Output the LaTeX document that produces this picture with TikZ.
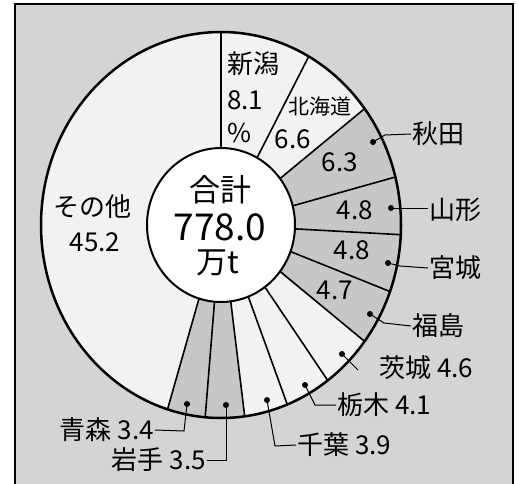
\documentclass[tikz,border=0pt]{standalone}
\usepackage{fontspec}
\setmainfont{Noto Sans CJK JP}
\definecolor{bggray}{gray}{0.83}
\definecolor{shadegray}{gray}{0.78}
\definecolor{lightfill}{gray}{0.95}
\begin{document}
\begin{tikzpicture}[x=1pt,y=-1pt,
  lbl/.style={font=\fontsize{26}{28}\selectfont, inner sep=1pt},
  small/.style={font=\fontsize{21}{23}\selectfont, inner sep=1pt},
  bigjp/.style={font=\fontsize{31}{33}\selectfont, inner sep=0pt},
  bignum/.style={font=\fontsize{37}{39}\selectfont, inner sep=0pt},
  dotmark/.style={circle, fill=black, inner sep=0pt, minimum size=6pt},
  lead/.style={line width=1pt},
  divline/.style={line width=1.6pt}]
\useasboundingbox (0,0) rectangle (519,484);
\coordinate (C) at (221,225);
% background and frame
\fill[bggray] (15,4) rectangle (513,484);
\draw[line width=2pt] (15,484) -- (15,4) -- (513,4) -- (513,484);
% donut
\fill[lightfill] (C) ellipse [x radius=180, y radius=193];
\fill[shadegray] (C) -- ([shift={(C)}]-37.08:180 and 193)
  arc[start angle=-37.08, end angle=37.08, x radius=180, y radius=193] -- cycle;
\fill[shadegray] (C) -- ([shift={(C)}]82.44:180 and 193)
  arc[start angle=82.44, end angle=107.28, x radius=180, y radius=193] -- cycle;
\draw[line width=2.5pt] (C) ellipse [x radius=180, y radius=193];
\foreach \a in {-90,-60.84,-37.08,-14.4,2.88,20.16,37.08,53.64,68.4,82.44,95.04,107.28}
  \draw[divline] ([shift={(C)}]\a:74 and 77) -- ([shift={(C)}]\a:180 and 193);
\draw[line width=2pt, fill=white] (C) ellipse [x radius=74, y radius=77];
% centre text
\node[bigjp] (tgokei) at (220,190) {合計};
\node[bignum] (ttotal) at (220,227) {778.0};
\node[bigjp] (tunit) at (218,263) {万t};
% slice texts
\node[lbl] (sniigata) at (253,64) {新潟};
\node[lbl, anchor=west] (vniigata) at (226,100) {8.1};
\node[lbl, anchor=west] (pniigata) at (226,133) {\%};
\node[small] (shokkaido) at (320,107) {北海道};
\node[lbl] (vhokkaido) at (293,139) {6.6};
\node[lbl] (vakita) at (340,162) {6.3};
\node[lbl] (vyamagata) at (355,210) {4.8};
\node[lbl] (vmiyagi) at (352,250) {4.8};
\node[lbl] (vfukushima) at (335,290) {4.7};
\node[lbl] (sother) at (92,207) {その他};
\node[lbl] (vother) at (95,242) {45.2};
% dots
\node[dotmark] (dakita) at (373,142) {};
\node[dotmark] (dyamagata) at (391,208) {};
\node[dotmark] (dmiyagi) at (388,263) {};
\node[dotmark] (dfukushima) at (370,314) {};
\node[dotmark] (dibaraki) at (342,354) {};
\node[dotmark] (dtochigi) at (305,385) {};
\node[dotmark] (dchiba) at (267,400) {};
\node[dotmark] (diwate) at (226,405) {};
\node[dotmark] (daomori) at (187,404) {};
% outside labels
\node[lbl, anchor=west] (lakita) at (411,134) {秋田};
\node[lbl, anchor=west] (lyamagata) at (428,210) {山形};
\node[lbl, anchor=west] (lmiyagi) at (428,268) {宮城};
\node[lbl, anchor=west] (lfukushima) at (411,326) {福島};
\node[lbl, anchor=west] (libaraki) at (378,368) {茨城 4.6};
\node[lbl, anchor=west] (ltochigi) at (336,405) {栃木 4.1};
\node[lbl, anchor=west] (lchiba) at (296,445) {千葉 3.9};
\node[lbl, anchor=east] (liwate) at (207,460) {岩手 3.5};
\node[lbl, anchor=east] (laomori) at (155,430) {青森 3.4};
% leader bends
\coordinate (bakita) at (385,135);
\coordinate (bmiyagi) at (400,266);
\coordinate (bfukushima) at (384,323);
\coordinate (eibaraki) at (358,370);
\coordinate (btochigi) at (315,405);
\coordinate (bchiba) at (275,446);
\coordinate (biwate) at (226,460);
\coordinate (baomori) at (184,431);
% leaders
\draw[lead] (dakita.center) -- (bakita) -- (lakita.west);
\draw[lead] (dyamagata.center) -- (lyamagata.west |- dyamagata.center);
\draw[lead] (dmiyagi.center) -- (bmiyagi) -- (lmiyagi.west);
\draw[lead] (dfukushima.center) -- (bfukushima) -- (lfukushima.west);
\draw[lead] (dibaraki.center) -- (eibaraki);
\draw[lead] (dtochigi.center) -- (btochigi) -- (ltochigi.west);
\draw[lead] (dchiba.center) -- (bchiba) -- (lchiba.west);
\draw[lead] (diwate.center) -- (biwate) -- (liwate.east);
\draw[lead] (daomori.center) -- (baomori) -- (laomori.east);
\end{tikzpicture}
\end{document}
